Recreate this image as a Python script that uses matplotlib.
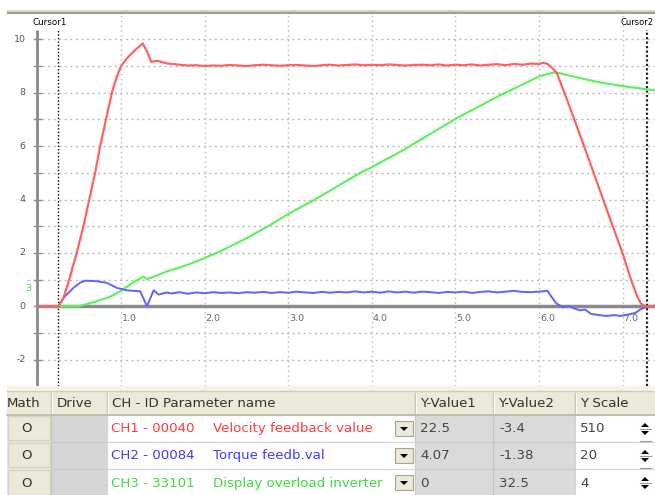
import numpy as np
import matplotlib
matplotlib.use("Agg")
import matplotlib.pyplot as plt
from matplotlib.patches import Rectangle, Polygon

# ---- 数据 (从截图读出) ----
vel_t = [0.03, 0.25, 0.31, 0.38, 0.47, 0.55, 0.62, 0.69, 0.75, 0.82, 0.89, 0.95, 1.00, 1.07,
         1.17, 1.26, 1.31, 1.36, 1.43, 1.55,
         1.6, 1.7, 1.8, 1.9, 2.0, 2.1, 2.2, 2.3, 2.4, 2.5, 2.6, 2.7, 2.8, 2.9, 3.0, 3.1, 3.2,
         3.3, 3.4, 3.5, 3.6, 3.7, 3.8, 3.9, 4.0, 4.1, 4.2, 4.3, 4.4, 4.5, 4.6, 4.7, 4.8, 4.9,
         5.0, 5.1, 5.2, 5.3, 5.4, 5.5, 5.6, 5.7, 5.8, 5.9, 6.0, 6.05, 6.1,
         6.15, 6.21, 6.34, 6.55, 6.77, 7.0, 7.1, 7.17, 7.22, 7.27, 7.38]
vel_y = [0.0, 0.0, 0.3, 1.0, 2.0, 3.0, 4.0, 5.0, 6.0, 7.0, 8.0, 8.6, 9.0, 9.29,
         9.6, 9.85, 9.55, 9.16, 9.2, 9.1,
         9.08, 9.05, 9.02, 9.03, 9.00, 9.02, 9.01, 9.04, 9.02, 9.00, 9.03, 9.05, 9.03, 9.01,
         9.03, 9.04, 9.02, 9.00, 9.03, 9.05, 9.02, 9.04, 9.06, 9.03, 9.05, 9.03, 9.06, 9.04,
         9.02, 9.04, 9.05, 9.03, 9.06, 9.02, 9.05, 9.03, 9.06, 9.02, 9.05, 9.07, 9.03, 9.08,
         9.05, 9.09, 9.08, 9.12, 9.08,
         8.95, 8.76, 7.7, 5.9, 3.97, 1.98, 1.0, 0.4, 0.1, 0.0, 0.0]

trq_t = [0.03, 0.25, 0.31, 0.43, 0.51, 0.57, 0.71, 0.83, 0.95, 1.07, 1.23, 1.31, 1.39, 1.45, 1.55,
         1.6, 1.7, 1.8, 1.9, 2.0, 2.1, 2.2, 2.3, 2.4, 2.5, 2.6, 2.7, 2.8, 2.9, 3.0, 3.1, 3.2,
         3.3, 3.4, 3.5, 3.6, 3.7, 3.8, 3.9, 4.0, 4.1, 4.2, 4.3, 4.4, 4.5, 4.6, 4.7, 4.8, 4.9,
         5.0, 5.1, 5.2, 5.3, 5.4, 5.5, 5.6, 5.7, 5.8, 5.9, 6.0, 6.1,
         6.15, 6.21, 6.29, 6.35, 6.42, 6.49, 6.55, 6.62, 6.7, 6.8, 6.9, 6.97, 7.05, 7.15,
         7.21, 7.3, 7.38]
trq_y = [0.0, 0.0, 0.31, 0.69, 0.88, 0.96, 0.94, 0.88, 0.69, 0.6, 0.56, 0.0, 0.6, 0.44, 0.52,
         0.48, 0.53, 0.47, 0.52, 0.49, 0.53, 0.50, 0.52, 0.49, 0.53, 0.51, 0.54, 0.50, 0.53,
         0.51, 0.55, 0.52, 0.50, 0.54, 0.51, 0.54, 0.52, 0.56, 0.52, 0.55, 0.51, 0.56, 0.52,
         0.55, 0.51, 0.55, 0.53, 0.50, 0.54, 0.52, 0.55, 0.50, 0.54, 0.56, 0.52, 0.55, 0.58,
         0.54, 0.53, 0.55, 0.58,
         0.35, 0.10, -0.04, 0.02, -0.08, -0.15, -0.12, -0.28, -0.32, -0.36, -0.33, -0.36,
         -0.32, -0.25, -0.12, 0.0, 0.02]

ovl_t = [0.03, 0.49, 0.71, 0.87, 0.99, 1.15, 1.27, 1.31, 1.40, 1.55, 1.70, 1.85, 2.0, 2.2,
         2.5, 2.76, 3.0, 3.32, 3.86, 4.0, 4.38, 5.01, 5.5, 6.0, 6.17, 6.25, 6.45, 6.69,
         7.0, 7.38]
ovl_y = [0.0, 0.0, 0.19, 0.36, 0.56, 0.9, 1.12, 1.02, 1.12, 1.31, 1.45, 1.62, 1.81, 2.08,
         2.55, 3.0, 3.46, 4.0, 5.0, 5.21, 5.86, 7.04, 7.85, 8.61, 8.76, 8.73, 8.58, 8.41,
         8.25, 8.09]

x_grid = [1, 2, 3, 4, 5, 6, 7]
x_labels = ['1.0', '2.0', '3.0', '4.0', '5.0', '6.0', '7.0']
y_grid = [-2, -1, 1, 2, 3, 4, 5, 6, 7, 8, 9, 10]
y_ticks = [-2, -1, 0, 1, 2, 3, 4, 5, 6, 7, 8, 9, 10]
y_labels = [-2, 0, 2, 4, 6, 8, 10]
cursor1, cursor2 = 0.25, 7.29

headers = ['Math', 'Drive', 'CH - ID Parameter name', 'Y-Value1', 'Y-Value2', 'Y Scale']
ch_ids = ['CH1 - 00040', 'CH2 - 00084', 'CH3 - 33101']
ch_names = ['Velocity feedback value', 'Torque feedb.val', 'Display overload inverter']
yval1 = ['22.5', '4.07', '0']
yval2 = ['-3.4', '-1.38', '32.5']
yscale = ['510', '20', '4']

RED, BLUE, GREEN = '#ff6262', '#6262ff', '#62f062'
TRED, TBLUE, TGREEN = '#ff3c3c', '#3c3cff', '#3cdc3c'
BEIGE = '#ece9d8'
GRIDC = '#b8b8b8'
AXC = '#8a8a8a'
FS = 9.6

plt.rcParams['font.family'] = ['DejaVu Sans']
fig = plt.figure(figsize=(6.55, 4.95), dpi=100)

# 顶部边框
fig.patches.append(Rectangle((7/655, 1 - 13/495), 648/655, 2.5/495, transform=fig.transFigure,
                             facecolor='#d8d4c0', edgecolor='none'))
fig.patches.append(Rectangle((7/655, 1 - 13.5/495), 648/655, 1/495, transform=fig.transFigure,
                             facecolor='#a09c90', edgecolor='none'))

# ---- 曲线区 ----
ax = fig.add_axes([7/655, 109/495, 648/655, 372/495])
ax.set_xlim(-0.364, 7.387)
ax.set_ylim(-2.985, 10.95)
ax.axis('off')

for xg in x_grid:
    ax.axvline(xg, color=GRIDC, lw=1, ls=(0, (1, 2.5)), zorder=1)
for yg in y_grid:
    ax.plot([0.05, 7.387], [yg, yg], color=GRIDC, lw=1, ls=(0, (1.5, 2.5)), zorder=1)

ax.plot([0, 0], [-2.985, 10.35], color=AXC, lw=2, zorder=3, solid_capstyle='butt')
ax.plot([0, 7.387], [0, 0], color=AXC, lw=2.5, zorder=3, solid_capstyle='butt')
for yt in y_ticks:
    ax.plot([-0.045, 0.045], [yt, yt], color=AXC, lw=1, zorder=3)
for yl in y_labels:
    ax.text(-0.14, yl, str(yl), ha='right', va='center', fontsize=6.8, color='#555555')
for xg, lab in zip(x_grid, x_labels):
    ax.text(xg + 0.1, -0.47, lab, ha='center', va='center', fontsize=6.8, color='#666666')

ax.plot([cursor1, cursor1], [-2.985, 10.35], color='black', lw=1, ls=(0, (1, 1.5)), zorder=4)
ax.plot([cursor2, cursor2], [-2.985, 10.35], color='#222222', lw=1.6, ls=(0, (1, 1)), zorder=4)
ax.text(0.15, 10.62, 'Cursor1', ha='center', va='center', fontsize=6.3, color='black')
ax.text(7.37, 10.62, 'Cursor2', ha='right', va='center', fontsize=6.0, color='black')
ax.text(-0.11, 0.98, '–', ha='center', va='center', fontsize=5, color=BLUE)
ax.text(-0.11, 0.66, '3', ha='center', va='center', fontsize=6.8, color=TGREEN)

ax.plot(ovl_t, ovl_y, color=GREEN, lw=1.6, zorder=5)
ax.plot(trq_t, trq_y, color=BLUE, lw=1.4, zorder=6)
ax.plot(vel_t, vel_y, color=RED, lw=1.6, zorder=7)

# ---- 下方表格 (像素坐标) ----
tb = fig.add_axes([0, 0, 1, 109/495])
tb.set_xlim(0, 655)
tb.set_ylim(495, 386)
tb.axis('off')

cols = [7, 51, 107, 415, 493, 575, 655]
tb.add_patch(Rectangle((7, 386), 648, 109, facecolor=BEIGE, edgecolor='none'))
tb.add_patch(Rectangle((7, 386), 648, 5, facecolor='#f6f4ea', edgecolor='none'))
tb.plot([7, 655], [391, 391], color='#d0ccb8', lw=1)
tb.plot([7, 655], [415, 415], color='#bdb9a5', lw=1.2)
for cx in cols[1:-1]:
    tb.plot([cx, cx], [393, 413], color='#c4c0ac', lw=1)
    tb.plot([cx + 1, cx + 1], [393, 413], color='white', lw=0.8)
hx = [7, 57, 112, 420, 498, 580]
for x, h in zip(hx, headers):
    tb.text(x, 404, h, ha='left', va='center', fontsize=FS, color='#333333')

rows = [(415, 442), (442, 469), (469, 497)]
for i, (r0, r1) in enumerate(rows):
    yc = (r0 + r1) / 2 + 0.5
    # Math 按钮
    tb.add_patch(Rectangle((8, r0 + 1.5), 42, r1 - r0 - 3, facecolor=BEIGE, edgecolor='#d6d2c0', lw=1))
    tb.text(27, yc, 'O', ha='center', va='center', fontsize=FS, color='#333333')
    # Drive
    tb.add_patch(Rectangle((51, r0), 56, r1 - r0, facecolor='#d6d6d6', edgecolor='#c4c4c4', lw=0.8))
    # CH
    tb.add_patch(Rectangle((107, r0), 308, r1 - r0, facecolor='white', edgecolor='#d4d4d4', lw=0.8))
    clr = [TRED, TBLUE, TGREEN][i]
    tb.text(111, yc, ch_ids[i], ha='left', va='center', fontsize=FS, color=clr)
    tb.text(213, yc, ch_names[i], ha='left', va='center', fontsize=FS, color=clr)
    # 下拉按钮
    tb.add_patch(Rectangle((395, r0 + 6), 18, 15, facecolor=BEIGE, edgecolor='#a8a490', lw=0.8))
    tb.add_patch(Polygon([[400, r0 + 12], [408, r0 + 12], [404, r0 + 16]], closed=True,
                         facecolor='black', edgecolor='none'))
    # Y-Value
    tb.add_patch(Rectangle((415, r0), 160, r1 - r0, facecolor='#dadada', edgecolor='#c8c8c8', lw=0.8))
    tb.plot([493, 493], [r0, r1], color='#c4c4c4', lw=0.8)
    tb.text(420, yc, yval1[i], ha='left', va='center', fontsize=FS, color='#444444')
    tb.text(499, yc, yval2[i], ha='left', va='center', fontsize=FS, color='#444444')
    # Y Scale
    tb.add_patch(Rectangle((575, r0), 80, r1 - r0, facecolor='white', edgecolor='#d4d4d4', lw=0.8))
    tb.text(580, yc, yscale[i], ha='left', va='center', fontsize=FS, color='#444444')
    tb.add_patch(Polygon([[641, r0 + 12], [649, r0 + 12], [645, r0 + 8]], closed=True,
                         facecolor='black', edgecolor='none'))
    tb.plot([640, 651], [r0 + 14, r0 + 14], color='#999999', lw=0.8)
    tb.add_patch(Polygon([[641, r0 + 16], [649, r0 + 16], [645, r0 + 20]], closed=True,
                         facecolor='black', edgecolor='none'))
    tb.plot([640, 651], [r1 - 1, r1 - 1], color='#999999', lw=0.8)

fig.savefig('out.png', dpi=100)
